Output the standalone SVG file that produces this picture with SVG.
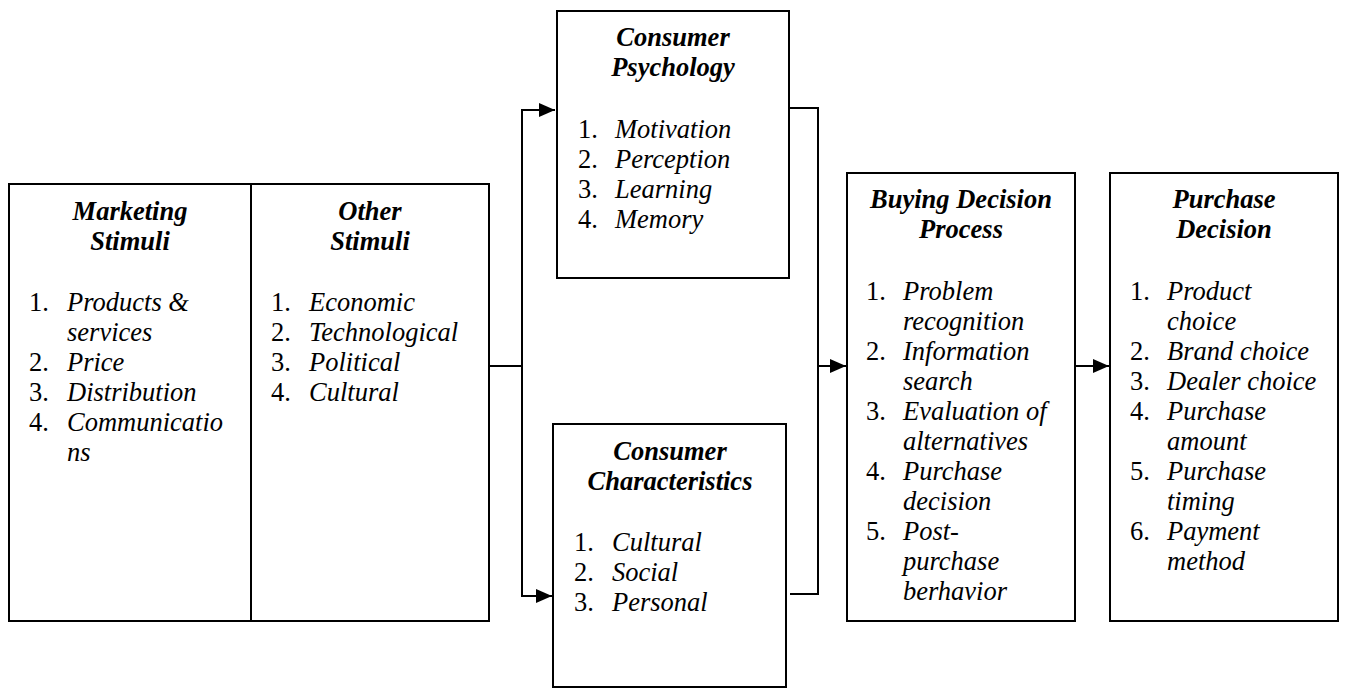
<svg xmlns="http://www.w3.org/2000/svg" width="1352" height="690" viewBox="0 0 1352 690">
  <style>
    .box { fill: #ffffff; stroke: #000000; stroke-width: 2; }
    .wire { fill: none; stroke: #000000; stroke-width: 2; }
    text { font-family: "Liberation Serif", "Times New Roman", serif; font-size: 26.5px; fill: #000000; }
    .head { font-weight: bold; font-style: italic; text-anchor: middle; }
    .item { font-style: italic; }
  </style>
  <defs>
    <marker id="arrow" viewBox="0 0 16 14" refX="16" refY="7" markerWidth="16" markerHeight="14" markerUnits="userSpaceOnUse" orient="auto">
      <path d="M0,0 L16,7 L0,14 Z" fill="#000000"/>
    </marker>
  </defs>

  <rect width="1352" height="690" fill="#ffffff"/>

  <!-- stimuli: two columns in one frame -->
  <g id="stimuli">
    <rect class="box" x="9" y="184" width="480" height="437"/>
    <line class="wire" x1="251" y1="184" x2="251" y2="621"/>
  </g>
  <g id="marketing-stimuli">
    <text class="head" x="130" y="220">Marketing</text>
    <text class="head" x="130" y="250">Stimuli</text>
    <text x="29" y="311">1.</text><text class="item" x="67" y="311">Products &amp;</text>
    <text class="item" x="67" y="341">services</text>
    <text x="29" y="371">2.</text><text class="item" x="67" y="371">Price</text>
    <text x="29" y="401">3.</text><text class="item" x="67" y="401">Distribution</text>
    <text x="29" y="431">4.</text><text class="item" x="67" y="431">Communicatio</text>
    <text class="item" x="67" y="461">ns</text>
  </g>
  <g id="other-stimuli">
    <text class="head" x="370" y="220">Other</text>
    <text class="head" x="370" y="250">Stimuli</text>
    <text x="271" y="311">1.</text><text class="item" x="309" y="311">Economic</text>
    <text x="271" y="341">2.</text><text class="item" x="309" y="341">Technological</text>
    <text x="271" y="371">3.</text><text class="item" x="309" y="371">Political</text>
    <text x="271" y="401">4.</text><text class="item" x="309" y="401">Cultural</text>
  </g>

  <!-- consumer psychology -->
  <g id="consumer-psychology">
    <rect class="box" x="557" y="11" width="232" height="267"/>
    <text class="head" x="673" y="46">Consumer</text>
    <text class="head" x="673" y="76">Psychology</text>
    <text x="578" y="138">1.</text><text class="item" x="615" y="138">Motivation</text>
    <text x="578" y="168">2.</text><text class="item" x="615" y="168">Perception</text>
    <text x="578" y="198">3.</text><text class="item" x="615" y="198">Learning</text>
    <text x="578" y="228">4.</text><text class="item" x="615" y="228">Memory</text>
  </g>

  <!-- consumer characteristics -->
  <g id="consumer-characteristics">
    <rect class="box" x="553" y="424" width="233" height="263"/>
    <text class="head" x="670" y="460">Consumer</text>
    <text class="head" x="670" y="490">Characteristics</text>
    <text x="574" y="551">1.</text><text class="item" x="612" y="551">Cultural</text>
    <text x="574" y="581">2.</text><text class="item" x="612" y="581">Social</text>
    <text x="574" y="611">3.</text><text class="item" x="612" y="611">Personal</text>
  </g>

  <!-- buying decision process -->
  <g id="buying-decision-process">
    <rect class="box" x="847" y="173" width="228" height="448"/>
    <text class="head" x="961" y="208">Buying Decision</text>
    <text class="head" x="961" y="238">Process</text>
    <text x="866" y="300">1.</text><text class="item" x="903" y="300">Problem</text>
    <text class="item" x="903" y="330">recognition</text>
    <text x="866" y="360">2.</text><text class="item" x="903" y="360">Information</text>
    <text class="item" x="903" y="390">search</text>
    <text x="866" y="420">3.</text><text class="item" x="903" y="420">Evaluation of</text>
    <text class="item" x="903" y="450">alternatives</text>
    <text x="866" y="480">4.</text><text class="item" x="903" y="480">Purchase</text>
    <text class="item" x="903" y="510">decision</text>
    <text x="866" y="540">5.</text><text class="item" x="903" y="540">Post-</text>
    <text class="item" x="903" y="570">purchase</text>
    <text class="item" x="903" y="600">berhavior</text>
  </g>

  <!-- purchase decision -->
  <g id="purchase-decision">
    <rect class="box" x="1110" y="173" width="228" height="448"/>
    <text class="head" x="1224" y="208">Purchase</text>
    <text class="head" x="1224" y="238">Decision</text>
    <text x="1130" y="300">1.</text><text class="item" x="1167" y="300">Product</text>
    <text class="item" x="1167" y="330">choice</text>
    <text x="1130" y="360">2.</text><text class="item" x="1167" y="360">Brand choice</text>
    <text x="1130" y="390">3.</text><text class="item" x="1167" y="390">Dealer choice</text>
    <text x="1130" y="420">4.</text><text class="item" x="1167" y="420">Purchase</text>
    <text class="item" x="1167" y="450">amount</text>
    <text x="1130" y="480">5.</text><text class="item" x="1167" y="480">Purchase</text>
    <text class="item" x="1167" y="510">timing</text>
    <text x="1130" y="540">6.</text><text class="item" x="1167" y="540">Payment</text>
    <text class="item" x="1167" y="570">method</text>
  </g>

  <!-- connectors -->
  <g id="connectors">
    <polyline class="wire" points="489,366 522,366"/>
    <polyline class="wire" points="522,596 522,110 555,110" marker-end="url(#arrow)"/>
    <polyline class="wire" points="522,366 522,596 552,596" marker-end="url(#arrow)"/>
    <polyline class="wire" points="789,108 818,108 818,594 790,594"/>
    <polyline class="wire" points="818,366 846,366" marker-end="url(#arrow)"/>
    <polyline class="wire" points="1075,366 1109,366" marker-end="url(#arrow)"/>
  </g>
</svg>
